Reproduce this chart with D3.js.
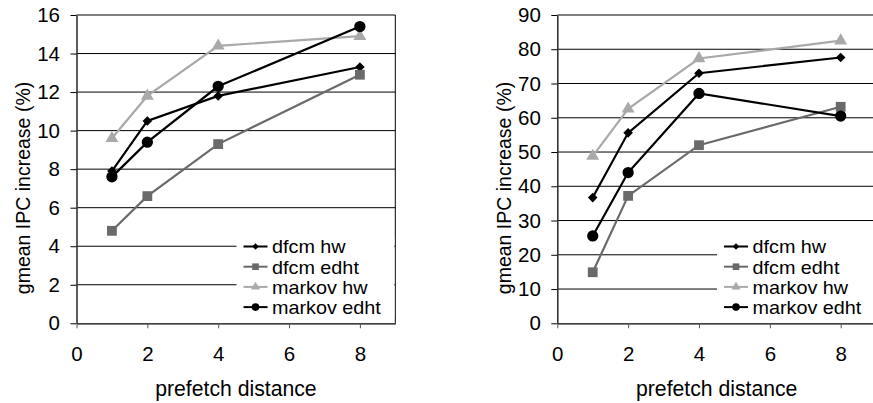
<!DOCTYPE html>
<html>
<head>
<meta charset="utf-8">
<script src="https://cdn.jsdelivr.net/npm/d3@7"></script>
<style>
  html, body { margin: 0; padding: 0; background: #fff; }
  svg { display: block; font-family: "Liberation Sans", Arial, Helvetica, sans-serif; }
</style>
</head>
<body>
<svg id="chart" width="873" height="403"></svg>
<script>
// Prefetch distances measured on the x axis
const distances = [1, 2, 4, 8];

// Series names, in legend order
const seriesNames = ["dfcm hw", "dfcm edht", "markov hw", "markov edht"];

// Left panel: gmean IPC increase (%)
const leftDfcmHw     = [7.9, 10.5, 11.8, 13.3];
const leftDfcmEdht   = [4.8, 6.6, 9.3, 12.9];
const leftMarkovHw   = [9.6, 11.8, 14.4, 14.9];
const leftMarkovEdht = [7.6, 9.4, 12.3, 15.4];

// Right panel: gmean IPC increase (%)
const rightDfcmHw     = [36.7, 55.6, 73.0, 77.6];
const rightDfcmEdht   = [14.9, 37.2, 52.0, 63.2];
const rightMarkovHw   = [48.8, 62.6, 77.3, 82.5];
const rightMarkovEdht = [25.5, 44.0, 67.1, 60.5];

// Axis ticks
const xTicks = [0, 2, 4, 6, 8];
const leftYTicks = [0, 2, 4, 6, 8, 10, 12, 14, 16];
const rightYTicks = [0, 10, 20, 30, 40, 50, 60, 70, 80, 90];

const xTitle = "prefetch distance";
const yTitle = "gmean IPC increase (%)";

// Per-series look: colour, marker symbol, and marker rotation (diamond = turned square)
const styles = {
  "dfcm hw":     { color: "#000000", symbol: d3.symbolSquare,   rot: 45, size: 46,  legendSize: 22 },
  "dfcm edht":   { color: "#6a6a6a", symbol: d3.symbolSquare,   rot: 0,  size: 96,  legendSize: 44 },
  "markov hw":   { color: "#a9a9a9", symbol: d3.symbolTriangle, rot: 0,  size: 72,  legendSize: 36 },
  "markov edht": { color: "#000000", symbol: d3.symbolCircle,   rot: 0,  size: 100, legendSize: 46 }
};

const svg = d3.select("#chart");

function drawPanel(cfg) {
  const { left, right, top, bottom, yMax, yTicks, series, legendLeft } = cfg;
  const x = d3.scaleLinear().domain([0, 9]).range([left, right]);
  const y = d3.scaleLinear().domain([0, yMax]).range([bottom, top]);
  const g = svg.append("g");

  // horizontal gridlines
  g.append("g").selectAll("line").data(yTicks.filter(t => t > 0)).join("line")
    .attr("x1", left).attr("x2", right)
    .attr("y1", d => y(d)).attr("y2", d => y(d))
    .attr("stroke", "#000").attr("stroke-width", 1);

  // right border of the plot area
  g.append("line")
    .attr("x1", right).attr("x2", right).attr("y1", top).attr("y2", bottom)
    .attr("stroke", "#000").attr("stroke-width", 1);

  // y axis
  const yAxis = g.append("g")
    .attr("transform", `translate(${left},0)`)
    .call(d3.axisLeft(y).tickValues(yTicks).tickSize(6).tickPadding(10.5).tickSizeOuter(0));
  yAxis.select(".domain").attr("stroke", "#333").attr("stroke-width", 1.6);
  yAxis.selectAll(".tick line").attr("stroke", "#000");
  yAxis.selectAll(".tick text").attr("font-size", 20.5).attr("fill", "#000")
    .attr("font-family", "Liberation Sans, Arial, sans-serif");

  // x axis
  const xAxis = g.append("g")
    .attr("transform", `translate(0,${bottom})`)
    .call(d3.axisBottom(x).tickValues(xTicks).tickSize(5).tickPadding(18).tickSizeOuter(0));
  xAxis.select(".domain").attr("stroke", "#000").attr("stroke-width", 1.2);
  xAxis.selectAll(".tick line").attr("stroke", "#555");
  xAxis.selectAll(".tick text").attr("font-size", 20.5).attr("fill", "#000")
    .attr("font-family", "Liberation Sans, Arial, sans-serif");

  // axis titles
  g.append("text")
    .attr("x", (left + right) / 2).attr("y", 395.5)
    .attr("text-anchor", "middle").attr("font-size", 21.2)
    .text(xTitle);
  g.append("text")
    .attr("transform", `translate(${cfg.yTitleX},${cfg.yTitleY}) rotate(-90)`)
    .attr("text-anchor", "middle").attr("font-size", 19.5)
    .text(yTitle);

  // legend background covering the gridlines
  const legendTop = 236;
  g.append("rect")
    .attr("x", legendLeft).attr("y", legendTop)
    .attr("width", right - legendLeft - 1).attr("height", bottom - legendTop - 5)
    .attr("fill", "#fff");

  // series lines and markers
  const line = d3.line().x((d, i) => x(distances[i])).y(d => y(d));
  seriesNames.forEach((name, si) => {
    const st = styles[name];
    const vals = series[si];
    g.append("path").datum(vals)
      .attr("d", line).attr("fill", "none")
      .attr("stroke", st.color).attr("stroke-width", 2.2);
    g.append("g").selectAll("path").data(vals).join("path")
      .attr("transform", (d, i) => `translate(${x(distances[i])},${y(d)}) rotate(${st.rot})`)
      .attr("d", d3.symbol().type(st.symbol).size(st.size))
      .attr("fill", st.color);
  });

  // legend entries (rows are tight, so the labels are set a little wide rather than tall)
  seriesNames.forEach((name, si) => {
    const st = styles[name];
    const ly = 246.5 + si * 20.2;
    const lx = legendLeft + 7;
    g.append("line")
      .attr("x1", lx).attr("x2", lx + 24).attr("y1", ly).attr("y2", ly)
      .attr("stroke", st.color).attr("stroke-width", 2);
    g.append("path")
      .attr("transform", `translate(${lx + 12},${ly}) rotate(${st.rot})`)
      .attr("d", d3.symbol().type(st.symbol).size(st.legendSize))
      .attr("fill", st.color);
    g.append("text")
      .attr("transform", `translate(${lx + 28.5},${ly + 6.8}) scale(1.1,1)`)
      .attr("font-size", 18)
      .text(name);
  });
}

drawPanel({
  left: 76.5, right: 395.3, top: 15, bottom: 323.3, yMax: 16, yTicks: leftYTicks,
  series: [leftDfcmHw, leftDfcmEdht, leftMarkovHw, leftMarkovEdht],
  legendLeft: 236.5, yTitleX: 30, yTitleY: 188
});

drawPanel({
  left: 557.3, right: 876.1, top: 15, bottom: 323.3, yMax: 90, yTicks: rightYTicks,
  series: [rightDfcmHw, rightDfcmEdht, rightMarkovHw, rightMarkovEdht],
  legendLeft: 717, yTitleX: 511, yTitleY: 188
});
</script>
</body>
</html>
